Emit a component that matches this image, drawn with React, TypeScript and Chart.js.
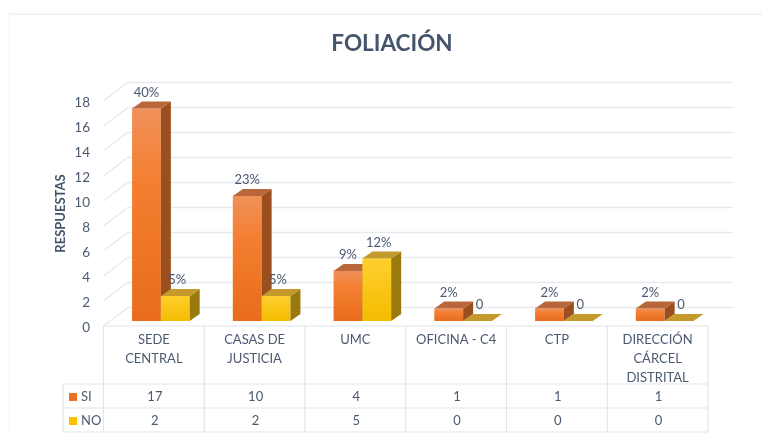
import React, { useEffect, useRef } from "react";
import { Chart, registerables } from "chart.js";

Chart.register(...registerables);

const categories: (string | string[])[] = [
  ["SEDE", "CENTRAL"],
  ["CASAS DE", "JUSTICIA"],
  "UMC",
  "OFICINA - C4",
  "CTP",
  ["DIRECCIÓN", "CÁRCEL", "DISTRITAL"],
];
const siValues = [17, 10, 4, 1, 1, 1];
const noValues = [2, 2, 5, 0, 0, 0];
const siLabels = ["40%", "23%", "9%", "2%", "2%", "2%"];
const noLabels = ["5%", "5%", "12%", "0", "0", "0"];
const yTicks = [0, 2, 4, 6, 8, 10, 12, 14, 16, 18];

const FONT = "Lato, 'Open Sans', sans-serif";
const TEXT = "#4b5a70";
const GRID = "#e6e9f0";
const BAR_SHIFT_X = 7;
const BAR_SHIFT_Y = -5;
const DEPTH_X = 10;
const DEPTH_Y = -7;

const shade3d = {
  id: "shade3d",
  beforeDatasetsDraw(chart: any) {
    const { ctx, chartArea, scales } = chart;
    const { x, y } = scales;
    ctx.save();
    ctx.strokeStyle = GRID;
    ctx.lineWidth = 1.5;
    const bx = 24;
    const by = -18.5;
    const line = (a: number, b: number, c: number, d: number) => {
      ctx.beginPath();
      ctx.moveTo(a, b);
      ctx.lineTo(c, d);
      ctx.stroke();
    };
    yTicks.forEach((t) => {
      const py = y.getPixelForValue(t);
      line(chartArea.left, py, chartArea.left + bx, py + by);
      line(chartArea.left + bx, py + by, chartArea.right + 25, py + by);
    });

    // data table
    const top = chartArea.bottom;
    const r1 = top + 58;
    const r2 = top + 82;
    const r3 = top + 106;
    const step = (chartArea.right - chartArea.left) / categories.length;
    ctx.strokeStyle = "#e1e4ec";
    ctx.lineWidth = 1.2;
    for (let i = 0; i <= categories.length; i++) {
      const px = chartArea.left + step * i;
      line(px, top, px, r3);
    }
    line(chartArea.left, top, chartArea.right, top);
    line(63, r1, chartArea.right, r1);
    line(63, r2, chartArea.right, r2);
    line(63, r3, chartArea.right, r3);
    line(63, r1, 63, r3);

    ctx.fillStyle = TEXT;
    ctx.font = `13px ${FONT}`;
    ctx.textAlign = "center";
    ctx.textBaseline = "middle";
    siValues.forEach((v, i) => ctx.fillText(String(v), x.getPixelForValue(i) + 1, (r1 + r2) / 2 + 1));
    noValues.forEach((v, i) => ctx.fillText(String(v), x.getPixelForValue(i) + 1, (r2 + r3) / 2 + 1));

    ctx.textAlign = "left";
    chart.data.datasets.forEach((ds: any, i: number) => {
      const cy = (i === 0 ? (r1 + r2) / 2 : (r2 + r3) / 2) + 1;
      ctx.fillStyle = ds.swatch;
      ctx.fillRect(69, cy - 4, 8, 8);
      ctx.fillStyle = TEXT;
      ctx.fillText(ds.label, 81, cy);
    });

    // axis title
    ctx.save();
    ctx.translate(61, (y.top + y.bottom) / 2);
    ctx.rotate(-Math.PI / 2);
    ctx.textAlign = "center";
    ctx.font = `bold 13px ${FONT}`;
    ctx.fillStyle = "#44546a";
    ctx.fillText("RESPUESTAS", 0, 0);
    ctx.restore();
    ctx.restore();
  },
  // bars are drawn below in series order, so the right-hand series covers the side of the left one
  beforeDatasetDraw() {
    return false;
  },
  afterDatasetsDraw(chart: any) {
    const { ctx } = chart;
    ctx.save();
    ctx.translate(BAR_SHIFT_X, BAR_SHIFT_Y);
    chart.data.datasets.forEach((ds: any, i: number) => {
      const meta = chart.getDatasetMeta(i);
      meta.controller.draw();
      meta.data.forEach((bar: any) => {
        const { x, y, base, width } = bar.getProps(["x", "y", "base", "width"], true);
        const l = x - width / 2;
        const r = x + width / 2;
        if (base - y > 0.5) {
          ctx.fillStyle = ds.sideColor;
          ctx.beginPath();
          ctx.moveTo(r, y);
          ctx.lineTo(r + DEPTH_X, y + DEPTH_Y);
          ctx.lineTo(r + DEPTH_X, base + DEPTH_Y);
          ctx.lineTo(r, base);
          ctx.closePath();
          ctx.fill();
        }
        ctx.fillStyle = ds.topColor;
        ctx.beginPath();
        ctx.moveTo(l, y);
        ctx.lineTo(l + DEPTH_X, y + DEPTH_Y);
        ctx.lineTo(r + DEPTH_X, y + DEPTH_Y);
        ctx.lineTo(r, y);
        ctx.closePath();
        ctx.fill();
      });
    });
    chart.data.datasets.forEach((ds: any, i: number) => {
      chart.getDatasetMeta(i).data.forEach((bar: any, j: number) => {
        ctx.fillStyle = TEXT;
        ctx.font = `13px ${FONT}`;
        ctx.textAlign = "center";
        ctx.textBaseline = "middle";
        ctx.fillText(ds.pointLabels[j], bar.x + (i === 1 ? 2 : 0), bar.y - 16);
      });
    });
    ctx.restore();
  },
};

export default function App() {
  const ref = useRef<HTMLCanvasElement>(null);
  useEffect(() => {
    const canvas = ref.current!;
    const ctx = canvas.getContext("2d")!;
    const gradient = (stops: [number, string][]) => (c: any) => {
      const yScale = c.chart.scales.y;
      if (!yScale || typeof c.raw !== "number" || c.raw <= 0) return stops[0][1];
      const a = yScale.getPixelForValue(c.raw);
      const b = yScale.getPixelForValue(0);
      if (!Number.isFinite(a) || !Number.isFinite(b)) return stops[0][1];
      const g = ctx.createLinearGradient(0, a, 0, b);
      stops.forEach(([o, col]) => g.addColorStop(o, col));
      return g;
    };
    const chart = new Chart(canvas, {
      type: "bar",
      plugins: [shade3d],
      data: {
        labels: categories as any,
        datasets: [
          {
            label: "SI",
            data: siValues,
            clip: false,
            swatch: "#ed7023",
            sideColor: "#9b4f1f",
            topColor: "#b9673a",
            pointLabels: siLabels,
            backgroundColor: gradient([
              [0, "#f0915a"],
              [0.35, "#f47e30"],
              [1, "#e86c1c"],
            ]),
          },
          {
            label: "NO",
            data: noValues,
            clip: false,
            swatch: "#fcc000",
            sideColor: "#9a7a0c",
            topColor: "#c39a2b",
            pointLabels: noLabels,
            backgroundColor: gradient([
              [0, "#ffcf2e"],
              [1, "#f4bc00"],
            ]),
          },
        ] as any,
      },
      options: {
        animation: false,
        responsive: false,
        layout: { padding: { left: 76, right: 54, top: 0, bottom: 0 } },
        datasets: { bar: { categoryPercentage: 0.572, barPercentage: 1 } },
        plugins: {
          legend: { display: false },
          tooltip: { enabled: false },
          title: {
            display: true,
            text: "FOLIACIÓN",
            color: "#44546a",
            font: { family: FONT, size: 22.5, weight: "bold" },
            padding: { top: 30, bottom: 44 },
          },
        },
        scales: {
          x: {
            grid: { display: false, drawTicks: false },
            border: { display: false },
            ticks: {
              color: TEXT,
              font: { family: FONT, size: 13, lineHeight: 1.44 },
              autoSkip: false,
              maxRotation: 0,
              minRotation: 0,
              padding: 4.6,
            },
            afterFit(s: any) {
              s.height = 108;
            },
          },
          y: {
            min: 0,
            max: 18,
            grid: { display: false, drawTicks: false },
            border: { display: false },
            ticks: {
              color: TEXT,
              font: { family: FONT, size: 13.5 },
              stepSize: 2,
              padding: 13.5,
              labelOffset: 2,
            },
            afterFit(s: any) {
              s.width = 27.5;
            },
          },
        },
      } as any,
    });
    return () => chart.destroy();
  }, []);
  return (
    <div style={{ position: "absolute", left: 0, top: 0, width: 762, height: 434, background: "#fff" }}>
      <div style={{ position: "absolute", left: 8, top: 13, width: 754, height: 421, boxSizing: "border-box", borderTop: "2px solid #f3f3f3", borderLeft: "2px solid #fafafa" }} />
      <canvas ref={ref} width={762} height={434} style={{ display: "block", position: "relative" }} />
    </div>
  );
}
